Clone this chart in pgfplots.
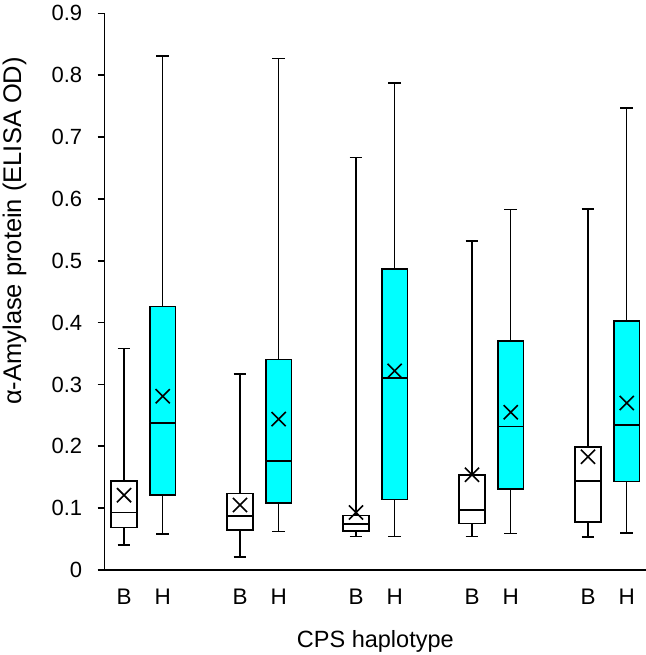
\documentclass[border=0pt]{standalone}
\usepackage{fontspec}
\setmainfont{Liberation Sans}
\usepackage{pgfplots}
\pgfplotsset{compat=1.18}
\usepgfplotslibrary{statistics}
\definecolor{aqua}{RGB}{0,255,255}
\begin{document}
\begin{tikzpicture}
\begin{axis}[
  at={(0,0)}, anchor=south west,
  scale only axis, width=541.3bp, height=556.7bp,
  xmin=-0.5, xmax=13.5, ymin=0, ymax=0.9,
  axis x line=bottom, axis y line=left,
  axis line style={-, line width=1.6bp, black},
  ytick={0,0.1,0.2,0.3,0.4,0.5,0.6,0.7,0.8,0.9},
  yticklabels={0,0.1,0.2,0.3,0.4,0.5,0.6,0.7,0.8,0.9},
  xtick={0,1,3,4,6,7,9,10,12,13},
  xticklabels={B,H,B,H,B,H,B,H,B,H},
  tick align=outside, major tick length=7bp,
  ytick style={line width=1.6bp, black},
  xtick style={draw=none},
  tick label style={font=\fontsize{22bp}{26bp}\selectfont},
  every y tick label/.append style={font=\fontsize{22bp}{26bp}\selectfont, xshift=-12bp},
  every x tick label/.append style={font=\fontsize{22.5bp}{27bp}\selectfont, yshift=-8bp},
  xlabel={CPS haplotype},
  ylabel={α-Amylase protein (ELISA OD)},
  xlabel style={font=\fontsize{23.5bp}{27bp}\selectfont, at={(axis description cs:0.5,-0.1389)}, anchor=base},
  ylabel style={font=\fontsize{25.5bp}{30bp}\selectfont, at={(axis description cs:-0.1667,0.609)}, anchor=center},
  boxplot/draw direction=y,
  clip=false,
]
% group 1
\addplot[draw=black, fill=white, line width=1.6bp, boxplot prepared={draw position=0, lower whisker=0.040, lower quartile=0.069, median=0.093, upper quartile=0.144, upper whisker=0.358, box extend=0.67, whisker extend=0.33}] coordinates {};
\addplot[draw=black, fill=aqua, line width=1.6bp, boxplot prepared={draw position=1, lower whisker=0.058, lower quartile=0.121, median=0.238, upper quartile=0.426, upper whisker=0.831, box extend=0.67, whisker extend=0.33}] coordinates {};
% group 2
\addplot[draw=black, fill=white, line width=1.6bp, boxplot prepared={draw position=3, lower whisker=0.021, lower quartile=0.065, median=0.087, upper quartile=0.124, upper whisker=0.317, box extend=0.67, whisker extend=0.33}] coordinates {};
\addplot[draw=black, fill=aqua, line width=1.6bp, boxplot prepared={draw position=4, lower whisker=0.062, lower quartile=0.108, median=0.176, upper quartile=0.340, upper whisker=0.827, box extend=0.67, whisker extend=0.33}] coordinates {};
% group 3
\addplot[draw=black, fill=white, line width=1.6bp, boxplot prepared={draw position=6, lower whisker=0.054, lower quartile=0.063, median=0.074, upper quartile=0.088, upper whisker=0.667, box extend=0.67, whisker extend=0.33}] coordinates {};
\addplot[draw=black, fill=aqua, line width=1.6bp, boxplot prepared={draw position=7, lower whisker=0.054, lower quartile=0.114, median=0.310, upper quartile=0.487, upper whisker=0.787, box extend=0.67, whisker extend=0.33}] coordinates {};
% group 4
\addplot[draw=black, fill=white, line width=1.6bp, boxplot prepared={draw position=9, lower whisker=0.054, lower quartile=0.075, median=0.097, upper quartile=0.154, upper whisker=0.532, box extend=0.67, whisker extend=0.33}] coordinates {};
\addplot[draw=black, fill=aqua, line width=1.6bp, boxplot prepared={draw position=10, lower whisker=0.059, lower quartile=0.131, median=0.232, upper quartile=0.370, upper whisker=0.583, box extend=0.67, whisker extend=0.33}] coordinates {};
% group 5
\addplot[draw=black, fill=white, line width=1.6bp, boxplot prepared={draw position=12, lower whisker=0.053, lower quartile=0.078, median=0.144, upper quartile=0.199, upper whisker=0.584, box extend=0.67, whisker extend=0.33}] coordinates {};
\addplot[draw=black, fill=aqua, line width=1.6bp, boxplot prepared={draw position=13, lower whisker=0.060, lower quartile=0.143, median=0.234, upper quartile=0.403, upper whisker=0.747, box extend=0.67, whisker extend=0.33}] coordinates {};
% means
\addplot[only marks, mark=x, mark size=10bp, mark options={line width=1.6bp, black}] coordinates {
(0,0.121) (1,0.281) (3,0.105) (4,0.244) (6,0.093) (7,0.322) (9,0.154) (10,0.255) (12,0.183) (13,0.270)};
\end{axis}
\pgfresetboundingbox
\path[use as bounding box] (-104.7bp,-85bp) rectangle (541.3bp,570bp);
\end{tikzpicture}
\end{document}
